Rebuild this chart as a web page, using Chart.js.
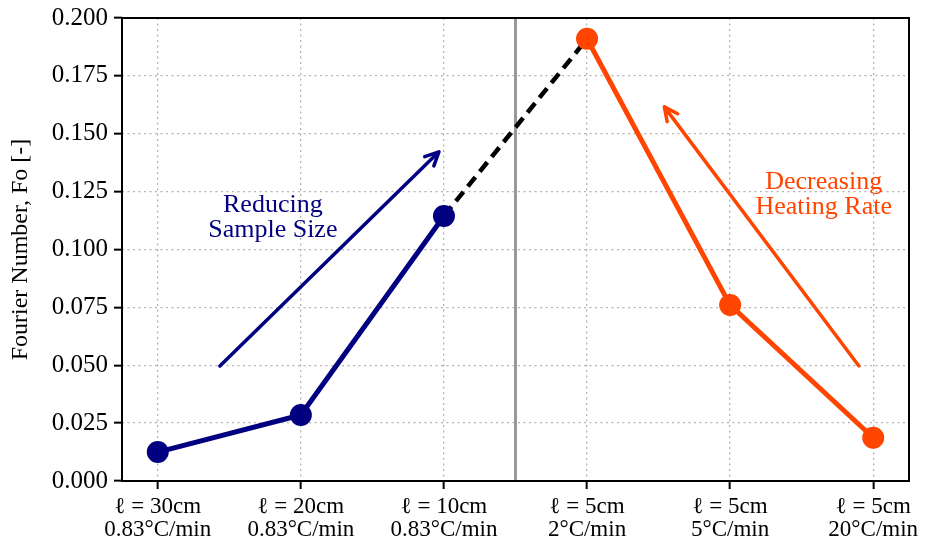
<!DOCTYPE html>
<html>
<head>
<meta charset="utf-8">
<script src="https://cdn.jsdelivr.net/npm/chart.js@4.4.0/dist/chart.umd.min.js"></script>
<style>
  html, body { margin: 0; padding: 0; background: #fff; }
</style>
</head>
<body>
<canvas id="chart" width="927" height="547"></canvas>
<script>
// sample length and heating rate for each run (two-line x labels)
const sizeLabels = ['\u2113 = 30cm', '\u2113 = 20cm', '\u2113 = 10cm', '\u2113 = 5cm', '\u2113 = 5cm', '\u2113 = 5cm'];
const rateLabels = ['0.83\u00b0C/min', '0.83\u00b0C/min', '0.83\u00b0C/min', '2\u00b0C/min', '5\u00b0C/min', '20\u00b0C/min'];
const xTickValues = [0, 1, 2, 3, 4, 5];
const yTickValues = [0, 0.025, 0.05, 0.075, 0.1, 0.125, 0.15, 0.175, 0.2];

// Fourier number per run
const sizeX = [0, 1, 2];
const sizeFo = [0.0125, 0.0285, 0.1145];
const rateX = [3, 4, 5];
const rateFo = [0.191, 0.076, 0.0187];

// trend arrows: tail -> head, in data units
const arrowFromX = [0.434, 4.90];
const arrowFromY = [0.0497, 0.0497];
const arrowToX = [1.965, 3.54];
const arrowToY = [0.1422, 0.1616];

const NAVY = '#000080';
const ORANGE = '#ff4500';
const SERIF = "'Liberation Serif', 'Times New Roman', serif";

const notes = [
  { lines: ['Reducing', 'Sample Size'], x: 0.804, y: 0.1136, color: NAVY },
  { lines: ['Decreasing', 'Heating Rate'], x: 4.654, y: 0.1238, color: ORANGE }
];

const pts = (xs, ys) => xs.map((x, i) => ({ x: x, y: ys[i] }));

const extras = {
  id: 'extras',
  beforeDatasetsDraw(chart) {
    // vertical divider between the two groups
    const { ctx, chartArea, scales } = chart;
    const x = scales.x.getPixelForValue(2.5);
    ctx.save();
    ctx.strokeStyle = '#999999';
    ctx.lineWidth = 3;
    ctx.beginPath();
    ctx.moveTo(x, chartArea.top);
    ctx.lineTo(x, chartArea.bottom);
    ctx.stroke();
    ctx.restore();
  },
  afterDatasetsDraw(chart) {
    const { ctx, scales } = chart;
    const colors = [NAVY, ORANGE];
    ctx.save();
    ctx.lineWidth = 3.5;
    ctx.lineCap = 'round';
    ctx.lineJoin = 'round';
    arrowFromX.forEach((_, i) => {
      const x0 = scales.x.getPixelForValue(arrowFromX[i]);
      const y0 = scales.y.getPixelForValue(arrowFromY[i]);
      const x1 = scales.x.getPixelForValue(arrowToX[i]);
      const y1 = scales.y.getPixelForValue(arrowToY[i]);
      const a = Math.atan2(y1 - y0, x1 - x0);
      const head = 15, spread = 0.45;
      ctx.strokeStyle = colors[i];
      ctx.beginPath();
      ctx.moveTo(x0, y0);
      ctx.lineTo(x1, y1);
      ctx.moveTo(x1 - head * Math.cos(a - spread), y1 - head * Math.sin(a - spread));
      ctx.lineTo(x1, y1);
      ctx.lineTo(x1 - head * Math.cos(a + spread), y1 - head * Math.sin(a + spread));
      ctx.stroke();
    });

    ctx.font = '26px ' + SERIF;
    ctx.textAlign = 'center';
    ctx.textBaseline = 'middle';
    const lh = 25;
    notes.forEach(n => {
      const cx = scales.x.getPixelForValue(n.x);
      const cy = scales.y.getPixelForValue(n.y);
      ctx.fillStyle = n.color;
      n.lines.forEach((t, j) => {
        ctx.fillText(t, cx, cy + (j - (n.lines.length - 1) / 2) * lh);
      });
    });
    ctx.restore();
  },
  afterDraw(chart) {
    // full box around the plot area
    const { ctx, chartArea } = chart;
    ctx.save();
    ctx.strokeStyle = '#000';
    ctx.lineWidth = 2;
    ctx.strokeRect(chartArea.left, chartArea.top, chartArea.right - chartArea.left, chartArea.bottom - chartArea.top);
    ctx.restore();
  }
};

new Chart(document.getElementById('chart'), {
  type: 'scatter',
  data: {
    datasets: [
      {
        data: pts(sizeX, sizeFo),
        showLine: true,
        borderColor: NAVY,
        backgroundColor: NAVY,
        borderWidth: 5,
        pointRadius: 11,
        pointBorderWidth: 0,
        order: 1
      },
      {
        data: pts(rateX, rateFo),
        showLine: true,
        borderColor: ORANGE,
        backgroundColor: ORANGE,
        borderWidth: 5,
        pointRadius: 11,
        pointBorderWidth: 0,
        order: 1
      },
      {
        // bridge between the smallest sample and the 2 C/min run
        data: [{ x: sizeX[2], y: sizeFo[2] }, { x: rateX[0], y: rateFo[0] }],
        showLine: true,
        borderColor: '#000',
        borderWidth: 4.5,
        borderDash: [12, 7],
        pointRadius: 0,
        order: 3
      }
    ]
  },
  options: {
    responsive: false,
    animation: false,
    devicePixelRatio: 1,
    layout: { padding: { top: 18, right: 18, left: 0, bottom: 0 } },
    plugins: {
      legend: { display: false },
      tooltip: { enabled: false }
    },
    scales: {
      x: {
        type: 'linear',
        min: -0.25,
        max: 5.25,
        afterBuildTicks: s => { s.ticks = xTickValues.map(v => ({ value: v })); },
        afterFit: s => { s.height = 66; s.paddingLeft = 0; s.paddingRight = 0; },
        grid: { color: '#b3b3b3', lineWidth: 1.3, tickLength: 8, tickColor: '#000', tickWidth: 2 },
        border: { display: false, dash: [2, 3.5] },
        ticks: {
          maxRotation: 0,
          autoSkip: false,
          padding: 6,
          color: '#000',
          font: { family: SERIF, size: 23, lineHeight: 1.0 },
          callback: v => [sizeLabels[v], rateLabels[v]]
        }
      },
      y: {
        min: 0,
        max: 0.2,
        afterBuildTicks: s => { s.ticks = yTickValues.map(v => ({ value: v })); },
        afterFit: s => { s.width = 122; s.paddingTop = 0; s.paddingBottom = 0; },
        grid: { color: '#b3b3b3', lineWidth: 1.3, tickLength: 8, tickColor: '#000', tickWidth: 2 },
        border: { display: false, dash: [2, 3.5] },
        title: {
          display: true,
          text: 'Fourier Number, Fo [-]',
          color: '#000',
          font: { family: SERIF, size: 24 },
          padding: { top: 6, bottom: 0 }
        },
        ticks: {
          padding: 6,
          color: '#000',
          font: { family: SERIF, size: 25 },
          callback: v => v.toFixed(3)
        }
      }
    }
  },
  plugins: [extras]
});
</script>
</body>
</html>
